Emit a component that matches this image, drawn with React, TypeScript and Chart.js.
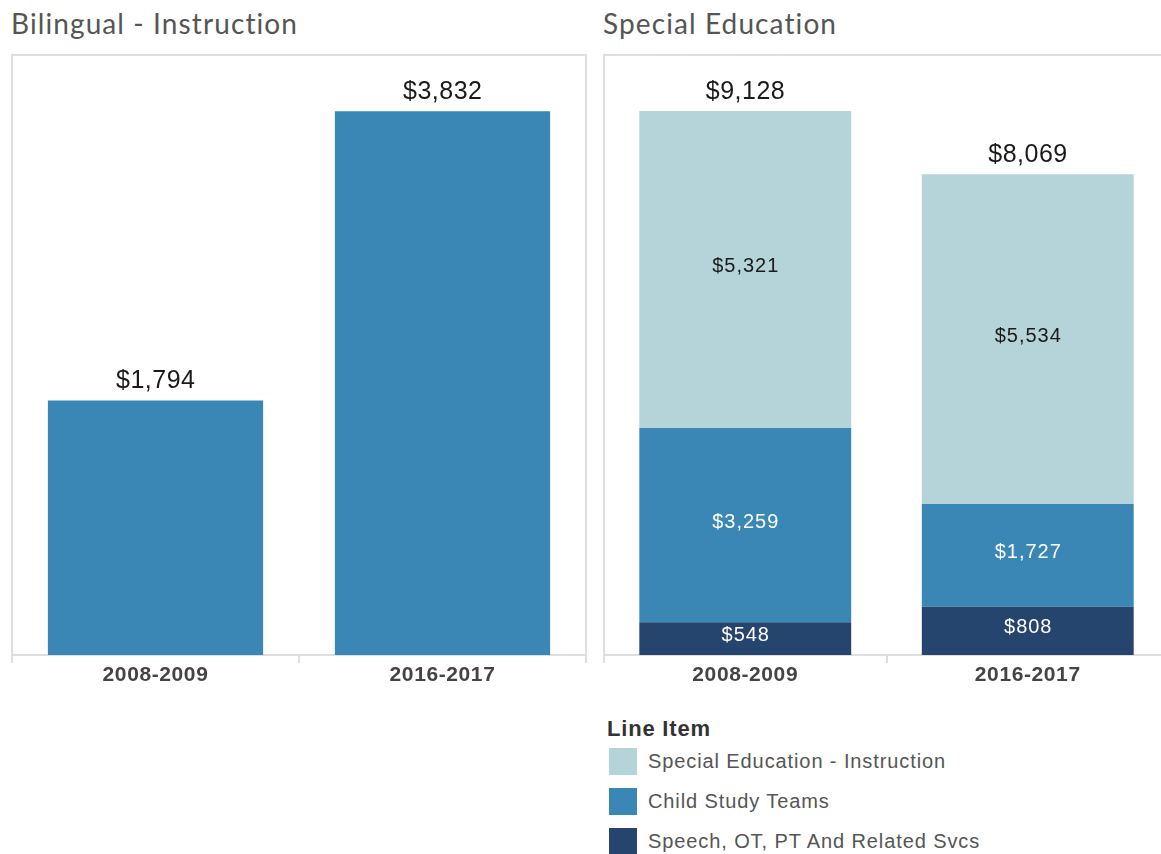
import React, { useEffect, useRef } from "react";
import { Chart, registerables } from "chart.js";

Chart.register(...registerables);

const categories = ["2008-2009", "2016-2017"];
const bilingualTitle = "Bilingual - Instruction";
const specialTitle = "Special Education";
const bilingualValues = [1794, 3832];
const speechValues = [548, 808];
const childStudyValues = [3259, 1727];
const spedInstructionValues = [5321, 5534];
const seriesNames = ["Special Education - Instruction", "Child Study Teams", "Speech, OT, PT And Related Svcs"];
const legendTitle = "Line Item";
const bilingualMax = 4228;
const specialMax = 10068;

const COLOR_LIGHT = "#b4d4da";
const COLOR_MID = "#3a86b5";
const COLOR_DARK = "#26456e";
const GRID = "#dedede";

const fmt = (v: number) => "$" + v.toLocaleString("en-US");

const spacingPlugin = {
  id: "spacing",
  beforeDraw(chart: any) {
    chart.ctx.letterSpacing = "0.6px";
  },
  afterDraw(chart: any) {
    chart.ctx.letterSpacing = "0px";
  },
};

const labelPlugin = {
  id: "barLabels",
  afterDatasetsDraw(chart: any) {
    const ctx = chart.ctx;
    const n = chart.data.datasets.length;
    const totals: number[] = chart.data.labels.map((_: any, i: number) =>
      chart.data.datasets.reduce((s: number, d: any) => s + (d.data[i] || 0), 0)
    );
    ctx.save();
    ctx.textAlign = "center";
    chart.data.datasets.forEach((ds: any, di: number) => {
      const meta = chart.getDatasetMeta(di);
      meta.data.forEach((bar: any, i: number) => {
        if (ds.segmentLabels) {
          const cy = (bar.y + bar.base) / 2;
          ctx.font = '20px "Liberation Sans", Arial, sans-serif';
          ctx.letterSpacing = "1px";
          ctx.fillStyle = ds.labelColor;
          ctx.textBaseline = "middle";
          ctx.fillText(fmt(ds.data[i]), bar.x + 0.5, cy - 3);
        }
        if (di === n - 1) {
          ctx.font = '25px "Liberation Sans", Arial, sans-serif';
          ctx.letterSpacing = "0.5px";
          ctx.fillStyle = "#1a1a1a";
          ctx.textBaseline = "alphabetic";
          ctx.fillText(fmt(totals[i]), bar.x + 0.25, bar.y - 12);
        }
      });
    });
    ctx.restore();
  },
};

const framePlugin = {
  id: "frame",
  beforeDatasetsDraw(chart: any) {
    const { left, right, top, bottom } = chart.chartArea;
    const ctx = chart.ctx;
    ctx.save();
    ctx.strokeStyle = GRID;
    ctx.lineWidth = 2;
    ctx.beginPath();
    ctx.moveTo(left, bottom);
    ctx.lineTo(left, top);
    ctx.lineTo(right, top);
    ctx.lineTo(right, bottom);
    ctx.stroke();
    ctx.restore();
  },
};

function makeOptions(max: number, padLeft: number, padRight: number, height: number): any {
  return {
    responsive: false,
    animation: false,
    layout: { padding: { left: padLeft, right: padRight, top: 55, bottom: 0 } },
    plugins: { legend: { display: false }, tooltip: { enabled: false }, title: { display: false } },
    scales: {
      x: {
        stacked: true,
        offset: true,
        grid: { drawOnChartArea: false, offset: true, tickLength: 8, color: GRID, lineWidth: 2 },
        border: { color: GRID, width: 2 },
        ticks: {
          color: "#444",
          padding: 0,
          font: { family: '"Liberation Sans", Arial, sans-serif', size: 21, weight: "bold" },
        },
        afterFit(scale: any) {
          scale.height = height - 655;
        },
      },
      y: { stacked: true, display: false, min: 0, max },
    },
  };
}

function BarPanel(props: { datasets: any[]; max: number; left: number; width: number; padLeft: number; padRight: number }) {
  const ref = useRef<HTMLCanvasElement | null>(null);
  const H = 700;
  useEffect(() => {
    if (!ref.current) return;
    const chart = new Chart(ref.current, {
      type: "bar",
      data: { labels: categories, datasets: props.datasets },
      options: makeOptions(props.max, props.padLeft, props.padRight, H),
      plugins: [spacingPlugin, framePlugin, labelPlugin],
    } as any);
    return () => chart.destroy();
  }, []);
  return (
    <canvas
      ref={ref}
      width={props.width}
      height={H}
      style={{ position: "absolute", left: props.left, top: 0, width: props.width, height: H }}
    />
  );
}

export default function App() {
  const barCommon = { barPercentage: 0.75, categoryPercentage: 1.0, borderWidth: 0 };
  const bilingualSets = [
    { ...barCommon, label: bilingualTitle, data: bilingualValues, backgroundColor: COLOR_MID },
  ];
  const specialSets = [
    { ...barCommon, label: seriesNames[2], data: speechValues, backgroundColor: COLOR_DARK, segmentLabels: true, labelColor: "#ffffff" },
    { ...barCommon, label: seriesNames[1], data: childStudyValues, backgroundColor: COLOR_MID, segmentLabels: true, labelColor: "#ffffff" },
    { ...barCommon, label: seriesNames[0], data: spedInstructionValues, backgroundColor: COLOR_LIGHT, segmentLabels: true, labelColor: "#1a1a1a" },
  ];
  const legendColors = [COLOR_LIGHT, COLOR_MID, COLOR_DARK];
  const titleStyle: React.CSSProperties = {
    position: "absolute",
    top: 5,
    fontFamily: "Lato, 'Open Sans', sans-serif",
    fontSize: 28,
    letterSpacing: "1.1px",
    lineHeight: "36px",
    color: "#555",
    whiteSpace: "nowrap",
  };
  return (
    <div style={{ position: "absolute", left: 0, top: 0, width: 1161, height: 854, overflow: "hidden", background: "#fff" }}>
      <div style={{ ...titleStyle, left: 11 }}>{bilingualTitle}</div>
      <div style={{ ...titleStyle, left: 603 }}>{specialTitle}</div>
      <BarPanel datasets={bilingualSets} max={bilingualMax} left={0} width={600} padLeft={12} padRight={14} />
      <BarPanel datasets={specialSets} max={specialMax} left={590} width={600} padLeft={14} padRight={21} />
      <div
        style={{
          position: "absolute",
          left: 607,
          top: 716,
          fontFamily: '"Liberation Sans", Arial, sans-serif',
          fontWeight: "bold",
          fontSize: 22,
          letterSpacing: "0.8px",
          color: "#333",
        }}
      >
        {legendTitle}
      </div>
      {seriesNames.map((name, i) => (
        <div key={name} style={{ position: "absolute", left: 609, top: 748 + i * 40, height: 27, display: "flex", alignItems: "center" }}>
          <div style={{ width: 28, height: 27, background: legendColors[i] }} />
          <div
            style={{
              marginLeft: 11,
              fontFamily: '"Liberation Sans", Arial, sans-serif',
              fontSize: 20,
              letterSpacing: "0.9px",
              color: "#555",
              whiteSpace: "nowrap",
            }}
          >
            {name}
          </div>
        </div>
      ))}
    </div>
  );
}
